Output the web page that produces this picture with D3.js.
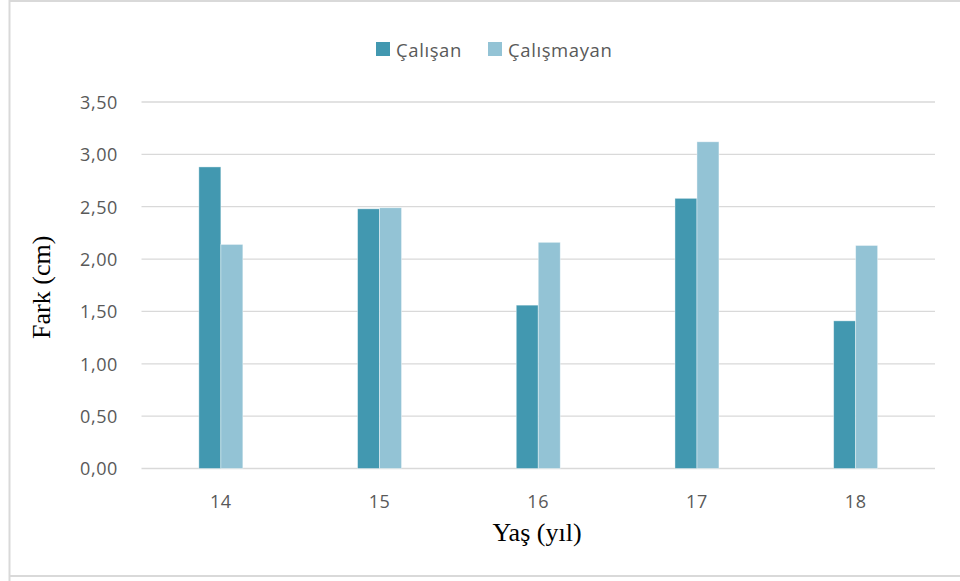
<!DOCTYPE html>
<html><head><meta charset="utf-8">
<script src="https://cdn.jsdelivr.net/npm/d3@7"></script>
<style>html,body{margin:0;padding:0;background:#fff;}svg{display:block;}</style>
</head><body>
<svg id="chart" width="960" height="581"></svg>
<script>
const categories = ["14", "15", "16", "17", "18"];
const seriesNames = ["Çalışan", "Çalışmayan"];
const calisan = [2.88, 2.48, 1.56, 2.58, 1.41];
const calismayan = [2.14, 2.49, 2.16, 3.12, 2.13];
const yTicks = [0, 0.5, 1, 1.5, 2, 2.5, 3, 3.5];
const colors = ["#4298B0", "#93C3D5"];

const svg = d3.select("#chart");
const W = 960, H = 581;
const m = {left: 141.5, right: 935, top: 102, bottom: 468.5};

// outer border
svg.append("path").attr("d", `M9.5,${H+2} V1 H${W+2}`).attr("fill","none").attr("stroke","#d9d9d9").attr("stroke-width",2);
svg.append("line").attr("x1",9).attr("x2",W).attr("y1",576).attr("y2",576).attr("stroke","#d9d9d9").attr("stroke-width",2);

const y = d3.scaleLinear().domain([0, 3.5]).range([m.bottom, m.top]);
const x0 = d3.scaleBand().domain(categories).range([m.left, m.right]).paddingInner(0.7228).paddingOuter(0.3614);
const x1 = d3.scaleBand().domain(seriesNames).range([0, x0.bandwidth()]);

const fmt = v => d3.format(".2f")(v).replace(".", ",");

// gridlines
svg.append("g").selectAll("line").data(yTicks).join("line")
  .attr("x1", m.left).attr("x2", m.right)
  .attr("y1", d => y(d)).attr("y2", d => y(d))
  .attr("stroke", "#d9d9d9").attr("stroke-width", 1.3);

// y axis labels
const yAxis = d3.axisLeft(y).tickValues(yTicks).tickFormat(fmt).tickSize(0).tickPadding(0);
const gy = svg.append("g").attr("transform", `translate(118,0)`).call(yAxis);
gy.select(".domain").remove();
gy.selectAll("text").attr("fill", "#595959").style("font-family", "'Open Sans', sans-serif").style("font-size", "18px").style("letter-spacing","0.6px").attr("dy","0.35em");

// bars
const data = categories.map((c, i) => ({cat: c, vals: [calisan[i], calismayan[i]]}));
const g = svg.append("g");
g.selectAll("g").data(data).join("g")
  .attr("transform", d => `translate(${x0(d.cat)},0)`)
  .selectAll("rect").data(d => d.vals.map((v, j) => ({name: seriesNames[j], v, j})))
  .join("rect")
  .attr("x", d => x1(d.name)).attr("width", x1.bandwidth())
  .attr("y", d => y(d.v)).attr("height", d => y(0) - y(d.v))
  .attr("fill", d => colors[d.j])
  .attr("stroke", "rgba(255,255,255,0.5)").attr("stroke-width", 0.8);

// x axis labels
const xCenter = d3.scaleBand().domain(categories).range([m.left, m.right]);
const xAxis = d3.axisBottom(xCenter).tickSize(0).tickPadding(0);
const gx = svg.append("g").attr("transform", `translate(0,${m.bottom})`).call(xAxis);
gx.select(".domain").remove();
gx.selectAll("text").attr("fill", "#595959").attr("dy", null).attr("y", 39)
  .style("font-family", "'Open Sans', sans-serif").style("font-size", "18px").style("letter-spacing","0.6px");

// axis titles
svg.append("text").attr("x", 537).attr("y", 541).attr("text-anchor", "middle")
  .style("font-family", "'Liberation Serif', 'Times New Roman', serif").style("font-size", "26px").attr("fill", "#000")
  .text("Yaş (yıl)");
svg.append("text").attr("transform", `translate(50,${(m.top + m.bottom) / 2 + 2}) rotate(-90)`).attr("text-anchor", "middle")
  .style("font-family", "'Liberation Serif', 'Times New Roman', serif").style("font-size", "26px").attr("fill", "#000")
  .text("Fark (cm)");

// legend
const legX = [376, 488];
const leg = svg.append("g").selectAll("g").data(seriesNames).join("g")
  .attr("transform", (d, i) => `translate(${legX[i]},42)`);
leg.append("rect").attr("width", 14).attr("height", 14).attr("fill", (d, i) => colors[i]);
leg.append("text").attr("x", 20).attr("y", 14.5).text(d => d)
  .attr("fill", "#595959").style("font-family", "'Open Sans', sans-serif").style("font-size", "18.5px").style("letter-spacing","0.6px");
</script>
</body></html>
